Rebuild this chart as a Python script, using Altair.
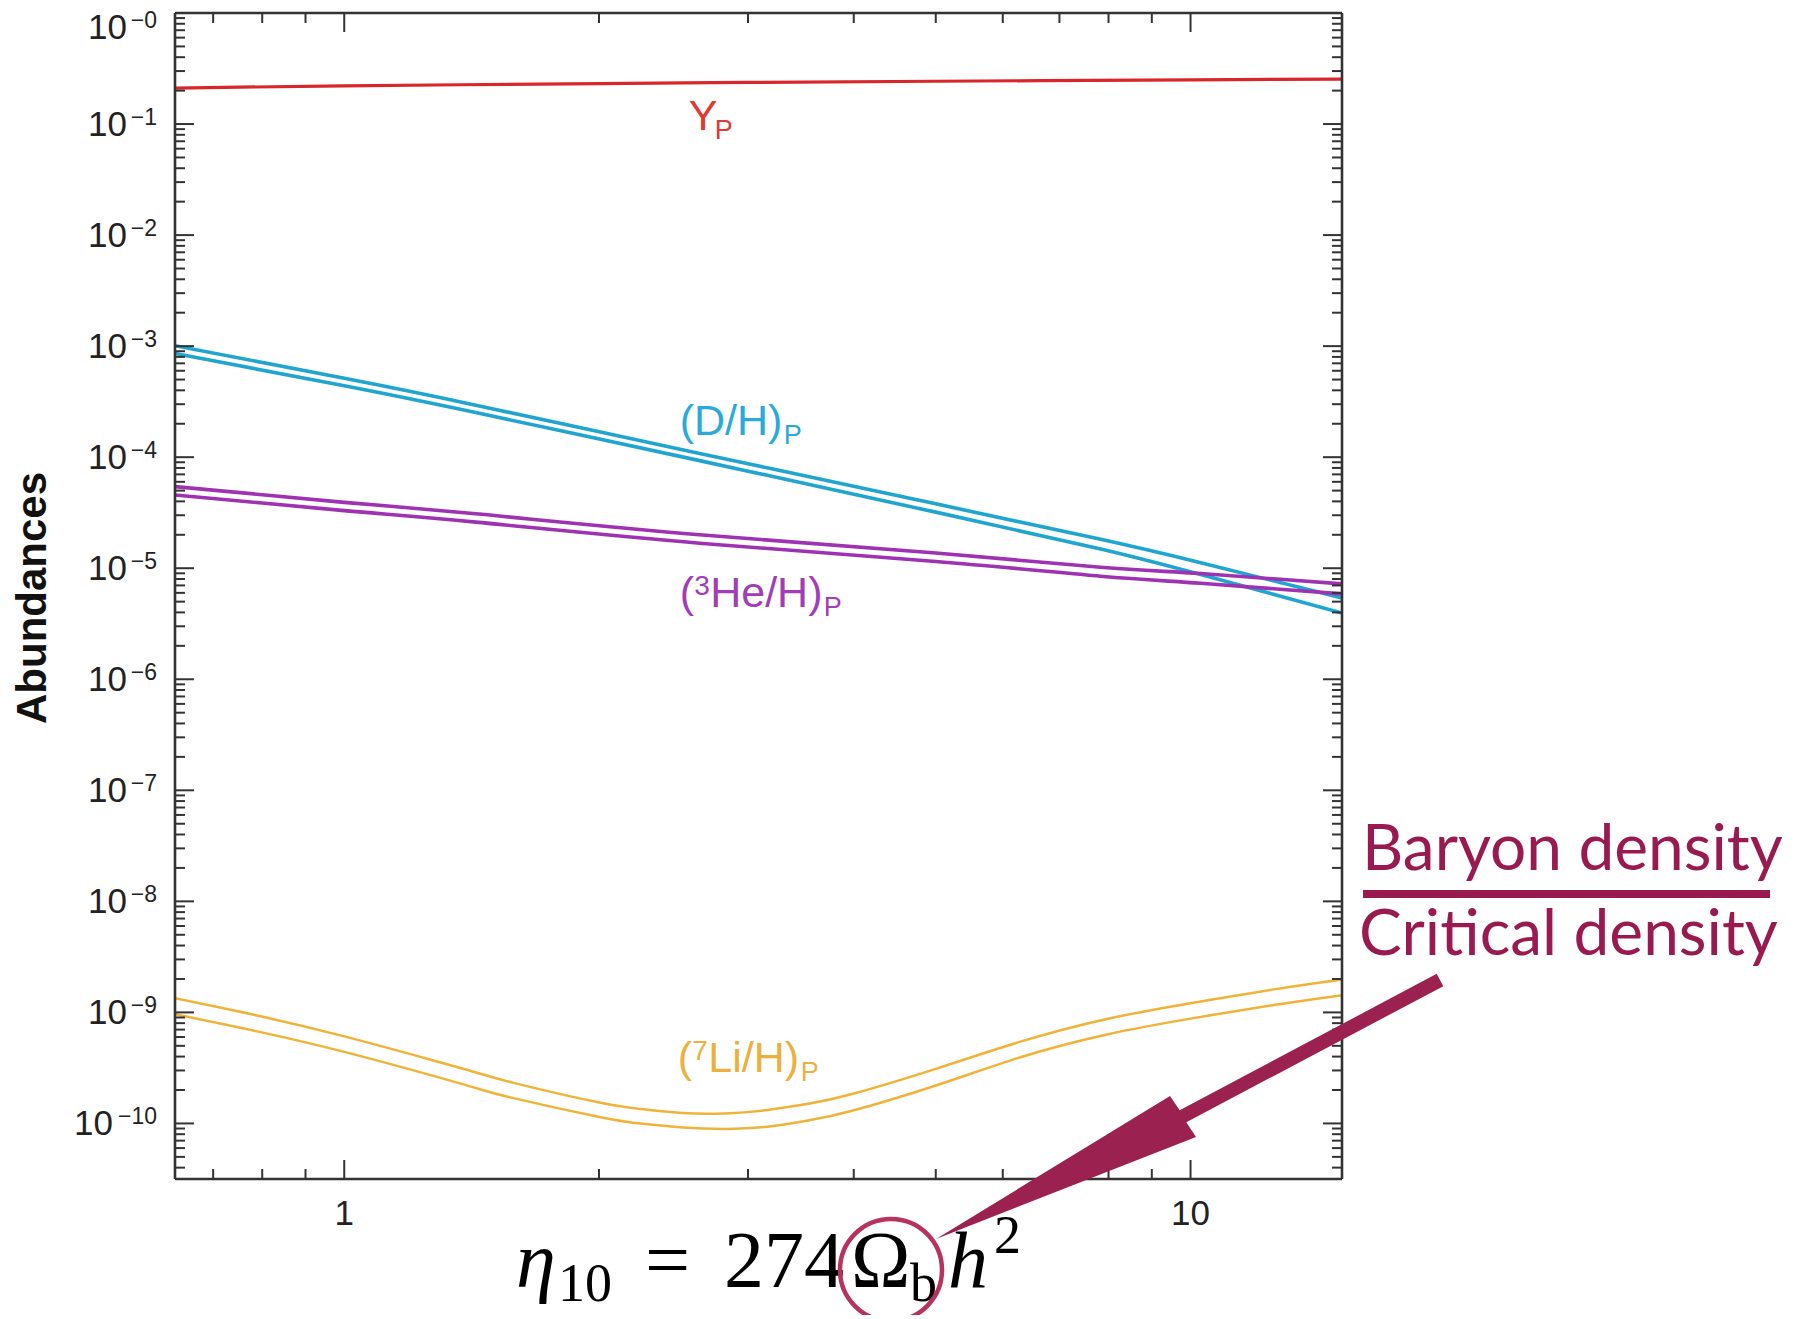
import altair as alt
import pandas as pd

# ---------------- data ----------------
eta_yp = [0.631, 1.0, 2.0, 3.0, 5.0, 10.0, 15.1]
yp = [0.211, 0.221, 0.231, 0.237, 0.243, 0.250, 0.254]

eta_dh = [0.631, 1.0, 1.43, 2.63, 3.18, 5.0, 7.83, 10.28, 15.1]
dh_hi = [1.01e-3, 5.13e-4, 2.94e-4, 1.08e-4, 7.94e-5, 3.80e-5, 1.82e-5, 1.12e-5, 5.40e-6]
dh_lo = [8.59e-4, 4.39e-4, 2.52e-4, 9.31e-5, 6.79e-5, 3.20e-5, 1.49e-5, 8.77e-6, 3.95e-6]

eta_he = [0.631, 1.0, 1.43, 2.63, 5.0, 7.83, 10.28, 15.1]
he_hi = [5.43e-5, 3.92e-5, 3.09e-5, 2.0e-5, 1.37e-5, 1.02e-5, 8.97e-6, 7.23e-6]
he_lo = [4.57e-5, 3.30e-5, 2.60e-5, 1.68e-5, 1.15e-5, 8.47e-6, 7.33e-6, 5.87e-6]

eta_li = [0.631, 0.794, 1.0, 1.259, 1.429, 1.585, 1.995, 2.239, 2.512, 2.818, 3.162,
          3.548, 3.981, 5.012, 6.31, 7.943, 10.0, 12.59, 15.1]
li_hi = [1.34e-9, 9.27e-10, 6.08e-10, 3.79e-10, 2.89e-10, 2.32e-10, 1.55e-10, 1.35e-10, 1.24e-10,
         1.23e-10, 1.32e-10, 1.51e-10, 1.84e-10, 3.12e-10, 5.48e-10, 8.69e-10, 1.21e-9, 1.62e-9, 1.98e-9]
li_lo = [9.62e-10, 6.68e-10, 4.41e-10, 2.75e-10, 2.09e-10, 1.69e-10, 1.15e-10, 9.98e-11, 9.2e-11,
         8.93e-11, 9.35e-11, 1.07e-10, 1.30e-10, 2.21e-10, 3.97e-10, 6.30e-10, 8.79e-10, 1.17e-9, 1.43e-9]

x_major = [1, 10]
x_major_labels = ["1", "10"]
x_minor = [0.7, 0.8, 0.9, 2, 3, 4, 5, 6, 7, 8, 9]
y_exps = list(range(0, 11))
y_major = [10.0 ** (-e) for e in y_exps]
y_minor = [k * 10.0 ** (-n) for n in range(1, 12) for k in range(2, 10) if k * 10.0 ** (-n) >= 3.16e-11]

# label anchors (eta, abundance)
lab_yp = (2.554, 0.0881)
lab_dh = (2.491, 1.60e-4)
lab_he = (2.491, 4.5e-6)
lab_li = (2.478, 2.88e-10)

# ---------------- styling ----------------
W, H = 1167, 1166
AX = "#333333"
SANS = "Liberation Sans"
SERIF = "Liberation Serif"
HAND = "Lato"
RED, BLUE, PURPLE, GOLD = "#d8262b", "#20a5d0", "#9e32b3", "#f0b33a"
MAROON = "#9b2150"

xs = alt.Scale(type="log", domain=[0.631, 15.1], nice=False)
ys = alt.Scale(type="log", domain=[3.16e-11, 1.0], nice=False)


def X(f):
    return alt.X(f"{f}:Q", scale=xs, axis=None)


def Y(f):
    return alt.Y(f"{f}:Q", scale=ys, axis=None)


one = pd.DataFrame({"a": [0]})
layers = []


def band_df(eta, hi, lo=None):
    rows = [{"eta": e, "val": v, "band": "hi"} for e, v in zip(eta, hi)]
    if lo is not None:
        rows += [{"eta": e, "val": v, "band": "lo"} for e, v in zip(eta, lo)]
    return pd.DataFrame(rows)


for eta, hi, lo, col, sw in [
    (eta_yp, yp, None, RED, 3.2),
    (eta_dh, dh_hi, dh_lo, BLUE, 3.6),
    (eta_he, he_hi, he_lo, PURPLE, 3.6),
    (eta_li, li_hi, li_lo, GOLD, 2.5),
]:
    layers.append(
        alt.Chart(band_df(eta, hi, lo))
        .mark_line(color=col, strokeWidth=sw, interpolate="natural", clip=True)
        .encode(x=X("eta"), y=Y("val"), detail="band:N")
    )

# ---------------- frame and ticks ----------------
for enc in [
    dict(x=alt.value(0), x2=alt.value(W), y=alt.value(0), y2=alt.value(0)),
    dict(x=alt.value(0), x2=alt.value(W), y=alt.value(H), y2=alt.value(H)),
    dict(x=alt.value(0), x2=alt.value(0), y=alt.value(0), y2=alt.value(H)),
    dict(x=alt.value(W), x2=alt.value(W), y=alt.value(0), y2=alt.value(H)),
]:
    layers.append(alt.Chart(one).mark_rule(color=AX, strokeWidth=2.6).encode(**enc))

for vals, ln in [(x_major, 19), (x_minor, 10)]:
    d = pd.DataFrame({"t": vals})
    layers.append(alt.Chart(d).mark_rule(color=AX, strokeWidth=2)
                  .encode(x=X("t"), y=alt.value(H), y2=alt.value(H - ln)))
    layers.append(alt.Chart(d).mark_rule(color=AX, strokeWidth=2)
                  .encode(x=X("t"), y=alt.value(0), y2=alt.value(ln)))
for vals, ln in [(y_major, 19), (y_minor, 10)]:
    d = pd.DataFrame({"t": vals})
    layers.append(alt.Chart(d).mark_rule(color=AX, strokeWidth=2)
                  .encode(y=Y("t"), x=alt.value(0), x2=alt.value(ln)))
    layers.append(alt.Chart(d).mark_rule(color=AX, strokeWidth=2)
                  .encode(y=Y("t"), x=alt.value(W - ln), x2=alt.value(W)))

# ---------------- tick labels ----------------
ydf = pd.DataFrame({"e": y_exps, "v": y_major, "lab": ["\u2212" + str(e) for e in y_exps]})
for flt, shift, xten in [("datum.e == 0", 14, -48), ("datum.e > 0 && datum.e < 10", 0, -48),
                         ("datum.e >= 10", 0, -62)]:
    layers.append(
        alt.Chart(ydf).transform_filter(flt)
        .mark_text(align="right", baseline="alphabetic", dy=1 + shift, fontSize=23, font=SANS, color="#222")
        .encode(x=alt.value(-18), y=Y("v"), text="lab:N")
    )
    layers.append(
        alt.Chart(ydf).transform_filter(flt)
        .mark_text(align="right", baseline="alphabetic", dy=12 + shift, fontSize=35, font=SANS, color="#222")
        .encode(x=alt.value(xten), y=Y("v"), text=alt.value("10"))
    )
xdf = pd.DataFrame({"t": x_major, "lab": x_major_labels})
layers.append(
    alt.Chart(xdf).mark_text(align="center", baseline="alphabetic", fontSize=35, font=SANS, color="#222")
    .encode(x=X("t"), y=alt.value(1212), text="lab:N")
)
layers.append(
    alt.Chart(one).mark_text(angle=270, align="center", baseline="middle", fontSize=42,
                             fontWeight="bold", font=SANS, color="#111")
    .encode(x=alt.value(-142), y=alt.value(585), text=alt.value("Abundances"))
)


# ---------------- series labels ----------------
def series_label(anchor, parts, color):
    d = pd.DataFrame({"eta": [anchor[0]], "val": [anchor[1]]})
    out = []
    for txt, dx, dy, size in parts:
        out.append(
            alt.Chart(d).mark_text(align="left", baseline="alphabetic", dx=dx, dy=dy,
                                   fontSize=size, font=SANS, color=color)
            .encode(x=X("eta"), y=Y("val"), text=alt.value(txt))
        )
    return out


layers += series_label(lab_yp, [("Y", 0, 0, 43), ("P", 26, 9, 27)], "#e03a34")
layers += series_label(lab_dh, [("(D/H)", 0, 0, 43), ("P", 104, 9, 27)], "#2aaad8")
layers += series_label(lab_he, [("(", 0, 0, 43), ("3", 14.5, -12, 28), ("He/H)", 30.5, 0, 43),
                                ("P", 144, 9, 27)], "#a23cb8")
layers += series_label(lab_li, [("(", 0, 0, 43), ("7", 14.5, -12, 28), ("Li/H)", 30.5, 0, 43),
                                ("P", 123, 9, 27)], "#ebb03e")


# ---------------- annotations ----------------
def txt(s, x, y, size, font, color="#000", style="normal", weight="normal"):
    return alt.Chart(one).mark_text(align="left", baseline="alphabetic", fontSize=size, font=font,
                                    color=color, fontStyle=style, fontWeight=weight).encode(
        x=alt.value(x), y=alt.value(y), text=alt.value(s))


layers += [
    txt("\u03b7", 341, 1274, 80, SERIF, style="italic"),
    txt("10", 383, 1288, 54, SERIF),
    txt("=", 470, 1274, 80, SERIF),
    txt("274", 549, 1274, 80, SERIF),
    txt("\u03a9", 676, 1274, 80, SERIF),
    txt("b", 735, 1288, 54, SERIF),
    txt("h", 773, 1274, 80, SERIF, style="italic"),
    txt("2", 819, 1240, 54, SERIF),
]

layers.append(txt("Baryon density", 1187, 857, 64, HAND, color="#981a50"))
layers.append(txt("Critical density", 1184, 942, 64, HAND, color="#981a50"))
layers.append(alt.Chart(one).mark_rule(color="#981a50", strokeWidth=8).encode(
    x=alt.value(1188), x2=alt.value(1595), y=alt.value(881), y2=alt.value(881)))

layers.append(alt.Chart(one).mark_point(shape="circle", size=102 * 102, filled=False, strokeWidth=4.5,
                                        color="#b8325e", opacity=1).encode(
    x=alt.value(716), y=alt.value(1257)))

arrow_path = ("M761,1226L995,1083L1004.7,1097.3L1261.7,960.8L1268.3,973.2"
              "L1011.3,1109.2L1021,1124Z")
layers.append(alt.Chart(one).mark_point(shape=arrow_path, size=4, filled=True, color=MAROON,
                                        opacity=1, strokeWidth=0).encode(
    x=alt.value(0), y=alt.value(0)))

chart = (
    alt.layer(*layers)
    .properties(width=W, height=H, autosize=alt.AutoSizeParams(type="none"),
                padding={"left": 167, "top": 5, "right": 450, "bottom": 136})
    .configure_view(strokeWidth=0)
)

chart.save("out.html", embed_options={"renderer": "svg", "actions": False})
